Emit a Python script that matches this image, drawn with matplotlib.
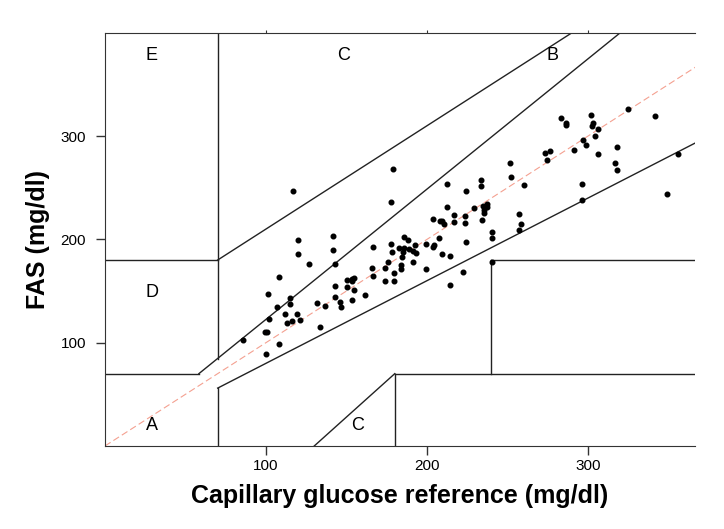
import matplotlib.pyplot as plt
import numpy as np

plt.rcParams['font.family'] = ['Liberation Sans', 'DejaVu Sans']

# reference (x) vs FAS (y), mg/dl
ref = [116.9, 119.9, 141.8, 119.9, 141.8, 126.7, 142.9, 108.1, 150.5, 142.9,
       150.5, 101.0, 114.9, 142.9, 131.9, 114.9, 106.8, 136.8, 146.0, 146.6,
       112.0, 119.0, 102.1, 115.9, 120.9, 113.0, 133.7, 99.2, 100.8, 85.9,
       108.1, 100.0,
       178.7, 177.6, 212.4, 212.4, 216.5, 203.5, 207.8, 209.5, 210.6, 216.5,
       185.5, 188.4, 177.8, 166.7, 182.6, 185.5, 188.8, 192.5, 199.4, 203.5,
       204.3, 207.6, 178.1, 184.9, 191.3, 193.4, 209.5, 214.5, 184.7, 175.6,
       191.5, 183.6, 183.6, 165.6, 173.7, 199.4, 179.7, 166.7, 173.7, 179.7,
       214.5, 153.2, 154.8, 153.6, 154.7, 153.6, 161.7,
       283.0, 286.1, 286.5, 273.1, 276.2, 274.3, 291.3, 251.3, 252.2, 233.3,
       233.3, 224.2, 260.0, 229.2, 234.5, 237.3, 237.3, 235.2, 235.2, 223.4,
       223.4, 234.3, 257.3, 258.2, 257.1, 240.4, 240.4, 224.2, 240.4, 222.4,
       302.1, 325.0, 341.8, 302.9, 302.5, 306.2, 304.1, 297.1, 299.0, 306.2,
       318.0, 317.0, 318.0, 355.7, 296.1, 296.1, 348.8]
fas = [246.9, 199.7, 203.0, 185.9, 189.8, 176.5, 176.5, 163.9, 160.7, 155.2,
       153.6, 147.1, 143.3, 144.6, 138.4, 137.2, 134.3, 135.5, 139.4, 134.3,
       127.4, 127.4, 122.6, 121.3, 122.0, 119.1, 114.9, 110.1, 110.1, 102.3,
       98.5, 89.4,
       267.9, 236.6, 253.2, 231.7, 223.3, 220.1, 218.1, 217.8, 214.9, 216.8,
       202.7, 199.4, 195.3, 192.6, 192.0, 192.0, 191.1, 194.9, 195.6, 193.0,
       194.6, 201.4, 188.1, 188.1, 189.1, 187.1, 185.9, 184.0, 182.7, 178.5,
       178.1, 174.9, 171.0, 172.6, 172.0, 171.3, 167.5, 164.9, 159.7, 159.4,
       155.5, 161.4, 162.9, 159.7, 150.7, 141.6, 145.9,
       317.2, 312.4, 310.7, 284.1, 285.7, 276.6, 286.6, 273.6, 260.4, 257.5,
       251.7, 247.2, 252.7, 230.1, 232.1, 234.7, 231.5, 228.0, 225.1, 222.6,
       215.6, 218.5, 224.3, 215.2, 209.4, 206.9, 201.7, 197.8, 177.8, 168.8,
       320.8, 325.9, 319.8, 312.4, 309.8, 306.6, 300.1, 296.5, 291.1, 282.7,
       289.2, 273.7, 266.9, 282.7, 253.6, 237.8, 243.9]

# Clarke error grid zone boundaries
zone_lines = [
    ([175 / 3, 320], [70, 400]),
    ([0, 175 / 3], [70, 70]),
    ([70, 70], [84, 400]),
    ([0, 70], [180, 180]),
    ([70, 290], [180, 400]),
    ([70, 70], [0, 56]),
    ([70, 400], [56, 320]),
    ([180, 180], [0, 70]),
    ([180, 400], [70, 70]),
    ([240, 240], [70, 180]),
    ([240, 400], [180, 180]),
    ([130, 180], [0, 70]),
]
zone_labels = ['E', 'C', 'B', 'D', 'A', 'C']
label_x = [29, 148, 278, 29, 29, 157]
label_y = [378, 378, 378, 149, 20, 20]

fig = plt.figure(figsize=(7.24, 5.29), dpi=100)
ax = fig.add_axes([0.145, 0.157, 0.815, 0.781])

ax.plot([0, 400], [0, 400], color='#f4a090', lw=0.8, ls=(0, (6, 3)))
for xs, ys in zone_lines:
    ax.plot(xs, ys, color='#222222', lw=1)
ax.scatter(ref, fas, s=11, color='black', zorder=3)

for t, x, y in zip(zone_labels, label_x, label_y):
    ax.text(x, y, t, ha='center', va='center', fontsize=13)

ax.set_xlim(0, 366.5)
ax.set_ylim(0, 400)
ax.set_xticks([100, 200, 300])
ax.set_yticks([100, 200, 300])
ax.tick_params(length=6.5, width=1, labelsize=11, color='#333333')
ax.tick_params(axis='x', pad=3)
ax.tick_params(axis='y', pad=7)
ax.spines['right'].set_visible(False)
for s in ['left', 'bottom', 'top']:
    ax.spines[s].set_color('#333333')

top = ax.secondary_xaxis('top')
top.set_xticks([100, 200, 300])
top.tick_params(length=2.2, labeltop=False, color='#333333')
top.spines['top'].set_visible(False)

ax.set_xlabel('Capillary glucose reference (mg/dl)', fontsize=18, fontweight='bold', labelpad=8)
ax.set_ylabel('FAS (mg/dl)', fontsize=18, fontweight='bold', labelpad=8)

fig.savefig('out.png', dpi=100)
